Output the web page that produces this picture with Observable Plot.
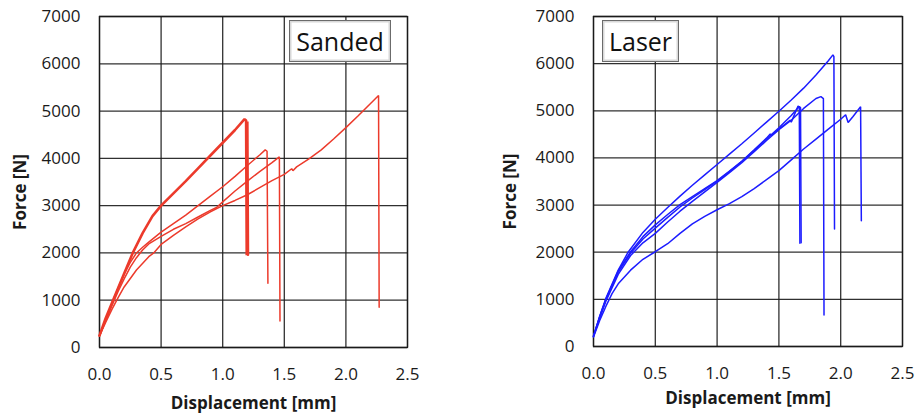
<!DOCTYPE html>
<html>
<head>
<meta charset="utf-8">
<script src="https://cdn.jsdelivr.net/npm/d3@7"></script>
<script src="https://cdn.jsdelivr.net/npm/@observablehq/plot@0.6"></script>
<style>
  body { margin: 0; background: #fff; }
  #wrap { position: relative; width: 917px; height: 416px; overflow: hidden; background: #fff; }
  .panel { position: absolute; top: 0; }
  .tag { position: absolute; box-sizing: border-box; background: #fff;
         border: 1.5px solid #6b6b6b; box-shadow: inset 0 0 0 1.5px #d8d8d8;
         font-family: "Open Sans", sans-serif; font-size: 25px; color: #111;
         display: flex; align-items: center; justify-content: center; }
</style>
</head>
<body>
<div id="wrap">
  <div id="left" class="panel" style="left:0px"></div>
  <div id="right" class="panel" style="left:460px"></div>
  <div class="tag" style="left:289px; top:20px; width:102px; height:42px;">Sanded</div>
  <div class="tag" style="left:602px; top:20px; width:77px; height:42px;">Laser</div>
</div>
<script>
// ---- Tick values ----
const xTicks = [0, 0.5, 1.0, 1.5, 2.0, 2.5];
const yTicks = [0, 1000, 2000, 3000, 4000, 5000, 6000, 7000];
const xLabel = "Displacement [mm]";
const yLabel = "Force [N]";

// ---- Sanded specimens: [displacement mm, force N] ----
const sandedA = [[0,250],[0.05,620],[0.11,1000],[0.19,1500],[0.27,2000],[0.35,2420],[0.43,2780],[0.5,3000],
  [0.6,3260],[0.7,3520],[0.8,3790],[0.9,4060],[1.0,4330],[1.1,4600],[1.177,4830],[1.19,4800],[1.195,1950],[1.2,4780],[1.205,1960]];
const sandedB = [[0,250],[0.05,580],[0.1,930],[0.15,1250],[0.2,1550],[0.25,1800],[0.3,2000],[0.35,2120],[0.4,2230],
  [0.5,2440],[0.6,2620],[0.7,2800],[0.8,3000],[0.9,3200],[1.0,3400],[1.1,3620],[1.2,3850],[1.3,4070],[1.345,4180],[1.36,4150],[1.367,1360]];
const sandedC = [[0,250],[0.05,560],[0.1,880],[0.15,1180],[0.2,1450],[0.25,1700],[0.3,1900],[0.35,2060],[0.4,2190],
  [0.5,2350],[0.6,2500],[0.7,2620],[0.8,2760],[0.9,2900],[0.95,2960],[1.0,3080],[1.1,3310],[1.2,3520],[1.3,3720],[1.4,3910],[1.46,4030],[1.465,560]];
const sandedD = [[0,250],[0.05,530],[0.1,800],[0.15,1050],[0.2,1280],[0.3,1640],[0.4,1920],[0.44,2000],[0.5,2180],
  [0.6,2370],[0.7,2550],[0.8,2720],[0.9,2870],[1.0,3000],[1.1,3110],[1.2,3230],[1.3,3380],[1.4,3530],[1.5,3660],
  [1.56,3780],[1.57,3740],[1.6,3820],[1.7,3990],[1.8,4180],[1.9,4410],[2.0,4650],[2.1,4900],[2.2,5160],[2.265,5330],[2.27,850]];

// ---- Laser specimens: [displacement mm, force N] ----
const laser1 = [[0,220],[0.05,640],[0.1,1020],[0.2,1620],[0.28,2000],[0.4,2420],[0.5,2700],[0.6,2950],[0.7,3190],
  [0.8,3420],[0.9,3640],[1.0,3860],[1.1,4080],[1.2,4300],[1.3,4530],[1.4,4760],[1.5,4990],[1.6,5230],[1.7,5480],
  [1.8,5760],[1.9,6060],[1.937,6186],[1.945,6150],[1.95,2490]];
const laser2 = [[0,220],[0.05,600],[0.1,960],[0.2,1530],[0.3,1930],[0.4,2200],[0.5,2400],[0.6,2640],[0.7,2870],
  [0.8,3080],[0.9,3280],[1.0,3480],[1.1,3690],[1.2,3900],[1.3,4130],[1.4,4370],[1.5,4600],[1.6,4800],[1.7,5050],
  [1.8,5260],[1.84,5300],[1.86,5260],[1.865,670]];
const laser3a = [[0,220],[0.05,630],[0.1,1000],[0.2,1600],[0.3,2010],[0.4,2330],[0.5,2580],[0.6,2800],[0.7,3010],
  [0.8,3180],[0.9,3350],[1.0,3520],[1.1,3720],[1.2,3930],[1.3,4170],[1.4,4420],[1.43,4510],[1.44,4480],[1.5,4610],
  [1.59,4800],[1.6,4760],[1.655,5100],[1.665,5080],[1.67,2190]];
const laser3b = [[0,220],[0.05,620],[0.1,990],[0.2,1580],[0.3,1980],[0.4,2280],[0.5,2510],[0.6,2740],[0.7,2960],
  [0.8,3150],[0.9,3330],[1.0,3510],[1.1,3710],[1.2,3930],[1.3,4160],[1.4,4400],[1.5,4640],[1.6,4900],[1.665,5090],
  [1.675,5070],[1.68,2200]];
const laser4 = [[0,200],[0.05,550],[0.1,850],[0.15,1120],[0.2,1330],[0.3,1620],[0.4,1850],[0.5,2010],[0.6,2180],
  [0.7,2400],[0.8,2600],[0.9,2760],[1.0,2900],[1.1,3030],[1.2,3180],[1.3,3350],[1.4,3540],[1.5,3730],[1.6,3960],
  [1.7,4190],[1.8,4400],[1.9,4610],[2.0,4820],[2.04,4915],[2.06,4750],[2.1,4880],[2.161,5085],[2.167,2670]];

const RED = "#ec3a2b";
const BLUE = "#1c1cff";

function panel(series, color, thick, m, w, ylabDx, xlabDy) {
  const lines = series.map((s, i) => Plot.line(s, {
    x: d => d[0], y: d => d[1], stroke: color,
    strokeWidth: thick.includes(i) ? 2.6 : 1.5, strokeLinejoin: "miter", curve: "linear"
  }));
  return Plot.plot({
    width: w, height: 416,
    marginLeft: m.left, marginRight: m.right, marginTop: m.top, marginBottom: m.bottom,
    style: { fontFamily: "'Open Sans', sans-serif", fontSize: "17px", color: "#1a1a1a", background: "white", overflow: "visible" },
    x: { domain: [0, 2.5] },
    y: { domain: [0, 7000] },
    marks: [
      Plot.gridX(xTicks, { stroke: "#1a1a1a", strokeOpacity: 0.9, strokeWidth: 1.3 }),
      Plot.gridY(yTicks, { stroke: "#1a1a1a", strokeOpacity: 0.9, strokeWidth: 1.3 }),
      Plot.frame({ stroke: "#1a1a1a", strokeWidth: 1.3 }),
      ...lines,
      Plot.axisX(xTicks, { tickSize: 0, tickPadding: 20, tickFormat: d3.format(".1f"), label: null, fontSize: 17 }),
      Plot.axisY(yTicks, { tickSize: 0, tickPadding: 19, tickFormat: d => String(d), label: null, fontSize: 17 }),
      Plot.text([xLabel], { text: d => d, frameAnchor: "bottom", lineAnchor: "middle", textAnchor: "middle",
        dy: xlabDy, fontWeight: "bold", fontSize: 17, fill: "#1a1a1a" }),
      Plot.text([yLabel], { text: d => d, frameAnchor: "left", lineAnchor: "middle", textAnchor: "middle",
        dx: ylabDx, dy: 10, rotate: -90, fontWeight: "bold", fontSize: 17, fill: "#1a1a1a" })
    ]
  });
}

document.getElementById("left").append(
  panel([sandedA, sandedB, sandedC, sandedD], RED, [0],
    { left: 99, right: 53, top: 16, bottom: 69 }, 460, -79, 56));
document.getElementById("right").append(
  panel([laser1, laser2, laser3a, laser3b, laser4], BLUE, [],
    { left: 133, right: 15, top: 16, bottom: 70 }, 457, -83, 52));
</script>
</body>
</html>
